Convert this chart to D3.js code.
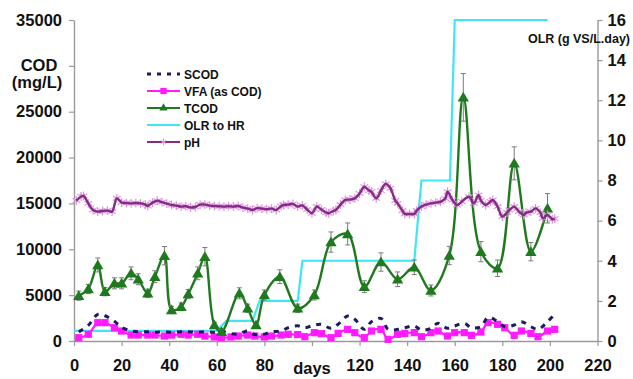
<!DOCTYPE html>
<html><head><meta charset="utf-8">
<script src="https://cdn.jsdelivr.net/npm/d3@7"></script>
<style>
body{margin:0;background:#fff}
svg{display:block}
text{font-family:"Liberation Sans",Arial,sans-serif;font-weight:bold;fill:#111}
</style>
</head><body><svg id="c" width="633" height="379"></svg>
<script>
// ---- data ----
const tcodDays   = [2,6,10,13,17,20,24,27,31,34,38,41,45,48,52,55,59,62,69.5,73,76.5,80,86.5,94,101,108,115,122,129,136,143,150,157.7,163.6,171,178,185,192,199];
const tcodValues = [4940,5670,8290,5380,6290,6290,7380,6730,5200,7010,9300,3380,3740,5120,7380,9190,1740,1010,5200,3570,1740,5020,7010,3570,5020,10790,11670,5920,8610,6730,8040,5510,9320,26570,9740,7930,19370,9740,14470];
const tcodErrors = [500,500,760,450,600,600,700,600,450,650,1000,400,400,500,700,1000,300,300,600,450,300,550,750,450,550,1100,1200,650,1000,800,800,600,1000,2600,1100,900,1800,1000,1600];

const svDays     = [2,6,10,13,17,20,24,27,31,34,38,41,45,48,52,55,59,62,66,69,73,76,80,83,87,90,94,97,101,104,108,111,115,118,122,125,129,132,136,139,143,146,150,153,157,160,164,167,171,174,178,181,185,188,192,195,199,202];
const scodValues = [1000,1700,2900,2750,2150,1500,1100,1000,1000,950,1000,950,1000,1000,950,1000,950,1050,800,750,1100,700,750,1000,1100,1450,1650,1450,1740,1820,1380,1820,2730,2370,1270,2110,2470,1270,1270,1450,1640,1200,1380,1930,1380,1640,1930,1450,1560,2580,2110,1560,1740,2110,1560,1270,2110,2910];
const vfaValues  = [360,730,2000,2000,1450,1090,650,650,650,650,540,650,730,650,730,540,440,360,440,540,650,540,440,540,650,730,700,470,910,800,360,830,1270,910,360,1090,1270,180,730,830,910,470,910,1090,540,910,910,620,980,2000,1820,1450,620,1090,830,470,1090,1270];

const olrDays   = [0,60,64,75,78,94,96,143,146,158,160,199];
const olrValues = [0.5,0.5,1,1,2,2,4,4,8,8,16,16];

const phDays   = [1,3,4,6,8,10,12,14,16,18,20,22,24,26,28,30,31,33,35,37,39,41,43,45,47,49,51,53,55,57,59,61,63,65,67,69,71,73,75,77,79,81,83,85,87,88,90,92,94,96,98,100,102,104,106,107,109,110,112,114,116,118,120,122,124,125,127,129,131,133,135,136,138,139,141,143,144,146,148,150,152,154,156,157,159,161,163,166,168,170,171,173,175,176,178,180,182,183,185,187,189,190,192,194,196,197,199,201,202];
const phValues = [7.0,7.2,7.23,6.86,6.53,6.45,6.48,6.5,6.45,7.11,6.9,6.88,6.86,6.88,6.86,6.8,6.73,6.9,6.99,6.92,6.85,6.78,6.75,6.7,6.72,6.66,6.68,6.8,6.8,6.75,6.73,6.72,6.7,6.72,6.7,6.73,6.65,6.6,6.53,6.62,6.6,6.57,6.6,6.53,6.72,6.78,6.8,6.83,6.7,6.76,6.55,6.37,6.7,6.55,6.4,6.37,6.48,6.53,6.8,7.03,7.05,7.11,7.35,7.69,7.5,7.44,7.11,7.5,7.83,7.61,7.0,6.86,6.5,6.33,6.33,6.33,6.5,6.7,6.8,6.86,6.9,6.94,7.1,7.44,7.03,6.78,6.95,7.19,6.86,7.28,7.0,6.78,6.95,7.03,6.7,6.2,6.4,6.53,6.7,6.45,6.28,6.4,6.45,6.61,6.4,6.12,6.28,6.07,6.1];

const xTicks   = [0,20,40,60,80,100,120,140,160,180,200,220];
const codTicks = [0,5000,10000,15000,20000,25000,30000,35000];
const olrTicks = [0,2,4,6,8,10,12,14,16];
const legendLabels = ["SCOD","VFA (as COD)","TCOD","OLR to HR","pH"];

// ---- colours ----
const C = {scod:"#1c1c5c", vfa:"#ff1aff", tcod:"#1f7a1f", olr:"#3ee6f2", ph:"#862a86", phMark:"#dc95dc", axis:"#9a9a9a", err:"#7a7a7a"};

const svg = d3.select("#c");
const x  = d3.scaleLinear().domain([0,220]).range([74,597.5]);
const yL = d3.scaleLinear().domain([0,35000]).range([341,20]);
const yR = d3.scaleLinear().domain([0,16]).range([341,20]);

// ---- axes ----
function styleAxis(g){
  g.selectAll("path.domain").attr("stroke",C.axis).attr("stroke-width",1.4);
  g.selectAll(".tick line").attr("stroke",C.axis).attr("stroke-width",1.2);
  g.selectAll(".tick text").attr("font-size",16.5).attr("font-family","'Liberation Sans',Arial,sans-serif").attr("font-weight","bold").attr("fill","#111");
}
const gx = svg.append("g").attr("transform","translate(0,341)")
  .call(d3.axisBottom(x).tickValues(xTicks).tickSize(5).tickSizeOuter(0).tickPadding(13).tickFormat(d=>d===100?"":d));
styleAxis(gx);
const gl = svg.append("g").attr("transform","translate(74,0)")
  .call(d3.axisLeft(yL).tickValues(codTicks).tickSize(5).tickSizeOuter(0).tickPadding(7).tickFormat(d=>d===30000?"":d));
styleAxis(gl);
const gr = svg.append("g").attr("transform","translate(597.5,0)")
  .call(d3.axisRight(yR).tickValues(olrTicks).tickSize(5).tickSizeOuter(0).tickPadding(5));
styleAxis(gr);

svg.append("text").attr("x",39).attr("y",71).attr("text-anchor","middle").attr("font-size",16.5).text("COD");
svg.append("text").attr("x",37).attr("y",88).attr("text-anchor","middle").attr("font-size",16.5).text("(mg/L)");
svg.append("text").attr("x",x(100)).attr("y",374).attr("text-anchor","middle").attr("font-size",16.5).text("days");
svg.append("text").attr("x",630).attr("y",43).attr("text-anchor","end").attr("font-size",12.5).text("OLR (g VS/L.day)");

// ---- series ----
const smooth = d3.curveCatmullRom.alpha(0.5);

// OLR step line
svg.append("path").datum(olrDays.map((d,i)=>[d,olrValues[i]]))
  .attr("fill","none").attr("stroke",C.olr).attr("stroke-width",2.2)
  .attr("d",d3.line().x(d=>x(d[0])).y(d=>yR(d[1])));

// VFA
const vfaPts = svDays.map((d,i)=>[d,vfaValues[i]]);
svg.append("path").datum(vfaPts).attr("fill","none").attr("stroke",C.vfa).attr("stroke-width",2.2)
  .attr("d",d3.line().x(d=>x(d[0])).y(d=>yL(d[1])).curve(smooth));
svg.append("g").selectAll("path").data(vfaPts).join("path")
  .attr("transform",d=>`translate(${x(d[0])},${yL(d[1])})`)
  .attr("d",d3.symbol(d3.symbolSquare,52)).attr("fill",C.vfa);

// SCOD
const scodPts = svDays.map((d,i)=>[d,scodValues[i]]);
svg.append("path").datum(scodPts).attr("fill","none").attr("stroke",C.scod).attr("stroke-width",3)
  .attr("stroke-dasharray","5,6")
  .attr("d",d3.line().x(d=>x(d[0])).y(d=>yL(d[1])).curve(smooth));

// TCOD
const tcodPts = tcodDays.map((d,i)=>[d,tcodValues[i],tcodErrors[i]]);
svg.append("path").datum(tcodPts).attr("fill","none").attr("stroke",C.tcod).attr("stroke-width",2.4)
  .attr("d",d3.line().x(d=>x(d[0])).y(d=>yL(d[1])).curve(smooth));
const eb = svg.append("g").attr("stroke",C.err).attr("stroke-width",1);
tcodPts.forEach(d=>{
  const cx = x(d[0]), t = yL(d[1]+d[2]), b = yL(d[1]-d[2]);
  eb.append("line").attr("x1",cx).attr("x2",cx).attr("y1",t).attr("y2",b);
  eb.append("line").attr("x1",cx-2.5).attr("x2",cx+2.5).attr("y1",t).attr("y2",t);
  eb.append("line").attr("x1",cx-2.5).attr("x2",cx+2.5).attr("y1",b).attr("y2",b);
});
svg.append("g").selectAll("path").data(tcodPts).join("path")
  .attr("transform",d=>`translate(${x(d[0])},${yL(d[1])+1})`)
  .attr("d",d3.symbol(d3.symbolTriangle,55)).attr("fill",C.tcod);

// pH
const phPts = phDays.map((d,i)=>[d,phValues[i]]);
svg.append("g").selectAll("path").data(phPts).join("path")
  .attr("transform",d=>`translate(${x(d[0])},${yR(d[1])})`)
  .attr("d",d3.symbol(d3.symbolAsterisk,55)).attr("fill","none").attr("stroke",C.phMark).attr("stroke-width",1.2);
svg.append("path").datum(phPts).attr("fill","none").attr("stroke",C.ph).attr("stroke-width",2.4)
  .attr("d",d3.line().x(d=>x(d[0])).y(d=>yR(d[1])).curve(smooth));

// ---- legend ----
const lg = svg.append("g");
const rows = [74,91,108,125,142];
const lx1 = 147, lx2 = 180;
legendLabels.forEach((lab,i)=>{
  const y = rows[i];
  const row = lg.append("g");
  if(i===0){
    row.append("line").attr("x1",lx1).attr("x2",lx2).attr("y1",y).attr("y2",y)
      .attr("stroke",C.scod).attr("stroke-width",3).attr("stroke-dasharray","4,6");
  } else if(i===1){
    row.append("line").attr("x1",lx1).attr("x2",lx2).attr("y1",y).attr("y2",y).attr("stroke",C.vfa).attr("stroke-width",2);
    row.append("path").attr("transform",`translate(${(lx1+lx2)/2},${y})`).attr("d",d3.symbol(d3.symbolSquare,40)).attr("fill",C.vfa);
  } else if(i===2){
    row.append("line").attr("x1",lx1).attr("x2",lx2).attr("y1",y).attr("y2",y).attr("stroke",C.tcod).attr("stroke-width",2);
    row.append("path").attr("transform",`translate(${(lx1+lx2)/2},${y})`).attr("d",d3.symbol(d3.symbolTriangle,30)).attr("fill",C.tcod);
  } else if(i===3){
    row.append("line").attr("x1",lx1).attr("x2",lx2).attr("y1",y).attr("y2",y).attr("stroke",C.olr).attr("stroke-width",2);
  } else {
    row.append("line").attr("x1",lx1).attr("x2",lx2).attr("y1",y).attr("y2",y).attr("stroke",C.ph).attr("stroke-width",2);
    row.append("path").attr("transform",`translate(${(lx1+lx2)/2},${y})`).attr("d",d3.symbol(d3.symbolAsterisk,30)).attr("fill","none").attr("stroke",C.phMark);
  }
  row.append("text").attr("x",184).attr("y",y+4.5).attr("font-size",12).text(lab);
});
</script>
</body></html>
